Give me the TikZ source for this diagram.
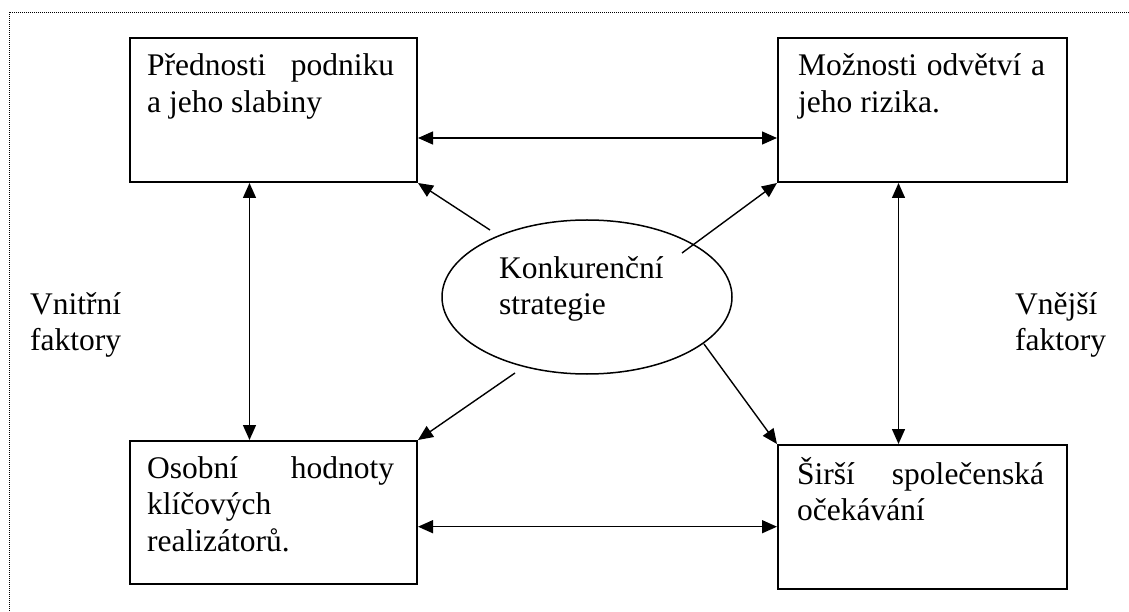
\documentclass[tikz,border=0pt]{standalone}
\usepackage{fontspec}
\setmainfont[WordSpace={1,2,0}]{Liberation Serif}
\usetikzlibrary{arrows.meta,shapes.geometric}
\hyphenpenalty=10000
\exhyphenpenalty=10000
\tolerance=10000

\begin{document}
\begin{tikzpicture}[x=1pt,y=1pt,every node/.style={font=\fontsize{31.5}{36.5}\selectfont},
    box/.style={draw,line width=2pt,minimum width=287pt,minimum height=144pt,inner sep=0pt},
    boxtext/.style={anchor=base west,inner sep=0pt,text width=247pt,align=justify},
    sidetext/.style={anchor=base west,inner sep=0pt,align=left},
    link/.style={line width=1.4pt,-{Triangle[length=15pt,width=13pt]}},
    dbllink/.style={line width=1.4pt,{Triangle[length=15pt,width=13pt]}-{Triangle[length=15pt,width=13pt]}}]
                \useasboundingbox (0,0) rectangle (1129,611);
                \draw[line width=0.8pt,dash pattern=on 0.8pt off 1.2pt] (9,0) -- (9,599) -- (1129,599);

                \node[box] (tl) at (273.5,501) {};
                \node[box,minimum width=289pt] (tr) at (922.5,501) {};
                \node[box,minimum height=143pt] (bl) at (273.5,98.5) {};
                \node[box,minimum width=289pt] (br) at (922.5,94) {};
                \node[draw,ellipse,line width=1.5pt,minimum width=290pt,minimum height=154pt,inner sep=0pt] (strat) at (587,314) {};

                \node[boxtext] (tltext) at ([shift={(18,-39)}]tl.north west) {Přednosti podniku a jeho slabiny};
                \node[boxtext] (trtext) at ([shift={(21,-39)}]tr.north west) {Možnosti odvětví a jeho rizika.};
                \node[boxtext] (bltext) at ([shift={(18,-38)}]bl.north west) {Osobní hodnoty klíčových realizátorů.};
                \node[boxtext] (brtext) at ([shift={(20,-40)}]br.north west) {Širší společenská očekávání};
                \node[sidetext] (strattext) at (499,296) {Konkurenční\\strategie};
                \node[sidetext] (inner) at (30,260) {Vnitřní\\faktory};
                \node[sidetext] (outer) at (1015,260) {Vnější\\faktory};

                \draw[dbllink] ([yshift=-28pt]tl.east) -- ([yshift=-28pt]tr.west);
                \draw[dbllink] ([yshift=-14.2pt]bl.east) -- ([yshift=-9.7pt]br.west);
                \draw[dbllink] ([xshift=-24pt]tl.south) -- ([xshift=-24pt]bl.north);
                \draw[dbllink] ([xshift=-24pt]tr.south) -- ([xshift=-24pt]br.north);

                \draw[link] ([shift={(-97,67)}]strat.center) -- (tl.south east);
                \draw[link] ([shift={(95,44)}]strat.center) -- (tr.south west);
                \draw[link] ([shift={(-72,-76)}]strat.center) -- (bl.north east);
                \draw[link] ([shift={(117,-47)}]strat.center) -- (br.north west);
            \end{tikzpicture}
\end{document}
